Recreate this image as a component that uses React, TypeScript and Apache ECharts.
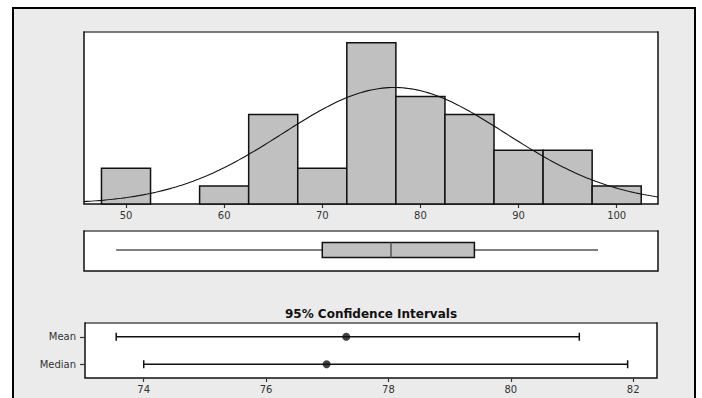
import React, { useEffect, useRef } from "react";
import * as echarts from "echarts";

// Histogram data (bin centres, counts per bin)
const BIN_CENTERS = [50, 55, 60, 65, 70, 75, 80, 85, 90, 95, 100];
const BIN_COUNTS = [2, 0, 1, 5, 2, 9, 6, 5, 3, 3, 1];
const BIN_WIDTH = 5;
const HIST_TICKS = [50, 60, 70, 80, 90, 100];
const HIST_MIN = 45.72;
const HIST_MAX = 104.21;
const HIST_YMAX = 9.6;

// Fitted normal summary
const SAMPLE_N = 37;
const SAMPLE_MEAN = 77.33;
const SAMPLE_STDEV = 11.35;

// Boxplot: [min, Q1, median, Q3, max]
const BOX_STATS = [49.0, 70.0, 77.0, 85.5, 98.1];

// 95% confidence intervals
const CI_LABELS = ["Mean", "Median"];
const CI_EST = [77.31, 76.99];
const CI_LOW = [73.55, 74.0];
const CI_HIGH = [81.12, 81.91];
const CI_TICKS = [74, 76, 78, 80, 82];
const CI_MIN = 73.04;
const CI_MAX = 82.39;

const FONT = "DejaVu Sans";

function normalCurve(): number[][] {
  const pts: number[][] = [];
  const steps = 200;
  for (let i = 0; i <= steps; i++) {
    const x = HIST_MIN + ((HIST_MAX - HIST_MIN) * i) / steps;
    const z = (x - SAMPLE_MEAN) / SAMPLE_STDEV;
    const y =
      (SAMPLE_N * BIN_WIDTH) / (SAMPLE_STDEV * Math.sqrt(2 * Math.PI)) *
      Math.exp(-0.5 * z * z);
    pts.push([x, y]);
  }
  return pts;
}

export default function App() {
  const ref = useRef<HTMLDivElement>(null);

  useEffect(() => {
    if (!ref.current) return;
    const chart = echarts.init(ref.current, null, { renderer: "svg" });

    const labelStyle = { fontFamily: FONT, fontSize: 10, color: "#333" };
    const gridBase = {
      show: true,
      backgroundColor: "#ffffff",
      borderColor: "#111",
      borderWidth: 1.5,
      containLabel: false,
    };
    const topLine = (x1: number, x2: number, y: number) => ({
      type: "line",
      z: 20,
      shape: { x1, y1: y, x2, y2: y },
      style: { stroke: "#8a8a8a", lineWidth: 1.5 },
    });

    const option: any = {
      animation: false,
      backgroundColor: "#ffffff",
      graphic: [
        {
          type: "rect",
          z: -10,
          shape: { x: 13, y: 8, width: 682, height: 420 },
          style: { fill: "#ebebeb", stroke: "#000", lineWidth: 2 },
        },
        topLine(85, 657, 32),
        topLine(85, 657, 231),
        topLine(86, 656, 323),
        {
          type: "text",
          z: 10,
          x: 371,
          y: 314,
          style: {
            text: "95% Confidence Intervals",
            font: `bold 12px "${FONT}"`,
            fill: "#111",
            align: "center",
            verticalAlign: "middle",
          },
        },
      ],
      grid: [
        { ...gridBase, left: 84, top: 32, width: 574, height: 172 },
        { ...gridBase, left: 84, top: 231, width: 574, height: 40 },
        { ...gridBase, left: 85, top: 323, width: 572, height: 55 },
      ],
      xAxis: [
        {
          gridIndex: 0,
          type: "value",
          min: HIST_MIN,
          max: HIST_MAX,
          splitLine: { show: false },
          axisLine: { show: false },
          axisTick: {
            show: true,
            customValues: HIST_TICKS,
            length: 4,
            lineStyle: { color: "#333", width: 1.2 },
          },
          axisLabel: { ...labelStyle, customValues: HIST_TICKS, margin: 6 },
        },
        {
          gridIndex: 1,
          type: "value",
          min: HIST_MIN,
          max: HIST_MAX,
          show: false,
        },
        {
          gridIndex: 2,
          type: "value",
          min: CI_MIN,
          max: CI_MAX,
          splitLine: { show: false },
          axisLine: { show: false },
          axisTick: {
            show: true,
            customValues: CI_TICKS,
            length: 4,
            lineStyle: { color: "#333", width: 1.2 },
          },
          axisLabel: { ...labelStyle, customValues: CI_TICKS, margin: 6 },
        },
      ],
      yAxis: [
        {
          gridIndex: 0,
          type: "value",
          min: 0,
          max: HIST_YMAX,
          show: false,
        },
        {
          gridIndex: 1,
          type: "category",
          data: ["box"],
          show: false,
        },
        {
          gridIndex: 2,
          type: "category",
          data: CI_LABELS,
          inverse: true,
          splitLine: { show: false },
          axisLine: { show: false },
          axisTick: {
            show: true,
            alignWithLabel: true,
            length: 5,
            lineStyle: { color: "#333", width: 1.2 },
          },
          axisLabel: { ...labelStyle, margin: 9 },
        },
      ],
      series: [
        {
          type: "custom",
          xAxisIndex: 0,
          yAxisIndex: 0,
          data: BIN_CENTERS.map((c, i) => [c, BIN_COUNTS[i]]),
          encode: { x: 0, y: 1 },
          renderItem: (params: any, api: any) => {
            const c = api.value(0);
            const v = api.value(1);
            if (!v) return null;
            const p1 = api.coord([c - BIN_WIDTH / 2, v]);
            const p2 = api.coord([c + BIN_WIDTH / 2, 0]);
            return {
              type: "rect",
              shape: {
                x: p1[0],
                y: p1[1],
                width: p2[0] - p1[0],
                height: p2[1] - p1[1],
              },
              style: { fill: "#c0c0c0", stroke: "#111", lineWidth: 1.5 },
            };
          },
        },
        {
          type: "line",
          xAxisIndex: 0,
          yAxisIndex: 0,
          data: normalCurve(),
          showSymbol: false,
          symbol: "none",
          lineStyle: { color: "#111", width: 1.1 },
          z: 5,
        },
        {
          type: "custom",
          xAxisIndex: 1,
          yAxisIndex: 1,
          data: [[...BOX_STATS, 0]],
          encode: { x: [0, 1, 2, 3, 4], y: 5 },
          renderItem: (params: any, api: any) => {
            const pMin = api.coord([api.value(0), 0]);
            const pQ1 = api.coord([api.value(1), 0]);
            const pMed = api.coord([api.value(2), 0]);
            const pQ3 = api.coord([api.value(3), 0]);
            const pMax = api.coord([api.value(4), 0]);
            const y = pMed[1] - 1;
            const h = 7.5;
            return {
              type: "group",
              children: [
                {
                  type: "line",
                  shape: { x1: pMin[0], y1: y, x2: pQ1[0], y2: y },
                  style: { stroke: "#555", lineWidth: 1.5 },
                },
                {
                  type: "line",
                  shape: { x1: pQ3[0], y1: y, x2: pMax[0], y2: y },
                  style: { stroke: "#555", lineWidth: 1.5 },
                },
                {
                  type: "rect",
                  shape: { x: pQ1[0], y: y - h, width: pQ3[0] - pQ1[0], height: 2 * h },
                  style: { fill: "#c0c0c0", stroke: "#111", lineWidth: 1.5 },
                },
                {
                  type: "line",
                  shape: { x1: pMed[0], y1: y - h, x2: pMed[0], y2: y + h },
                  style: { stroke: "#555", lineWidth: 1.5 },
                },
              ],
            };
          },
        },
        {
          type: "custom",
          xAxisIndex: 2,
          yAxisIndex: 2,
          data: CI_LABELS.map((_, i) => [CI_LOW[i], CI_HIGH[i], i]),
          encode: { x: [0, 1], y: 2 },
          renderItem: (params: any, api: any) => {
            const idx = api.value(2);
            const p1 = api.coord([api.value(0), idx]);
            const p2 = api.coord([api.value(1), idx]);
            const cap = 4;
            const st = { stroke: "#111", lineWidth: 1.5 };
            return {
              type: "group",
              children: [
                { type: "line", shape: { x1: p1[0], y1: p1[1], x2: p2[0], y2: p2[1] }, style: st },
                { type: "line", shape: { x1: p1[0], y1: p1[1] - cap, x2: p1[0], y2: p1[1] + cap }, style: st },
                { type: "line", shape: { x1: p2[0], y1: p2[1] - cap, x2: p2[0], y2: p2[1] + cap }, style: st },
              ],
            };
          },
        },
        {
          type: "scatter",
          xAxisIndex: 2,
          yAxisIndex: 2,
          data: CI_EST.map((v, i) => [v, i]),
          symbol: "circle",
          symbolSize: 8,
          itemStyle: { color: "#111" },
          z: 5,
        },
      ],
    };

    chart.setOption(option);
    return () => chart.dispose();
  }, []);

  return (
    <div
      ref={ref}
      style={{ position: "fixed", left: 0, top: 0, width: 702, height: 398 }}
    />
  );
}
